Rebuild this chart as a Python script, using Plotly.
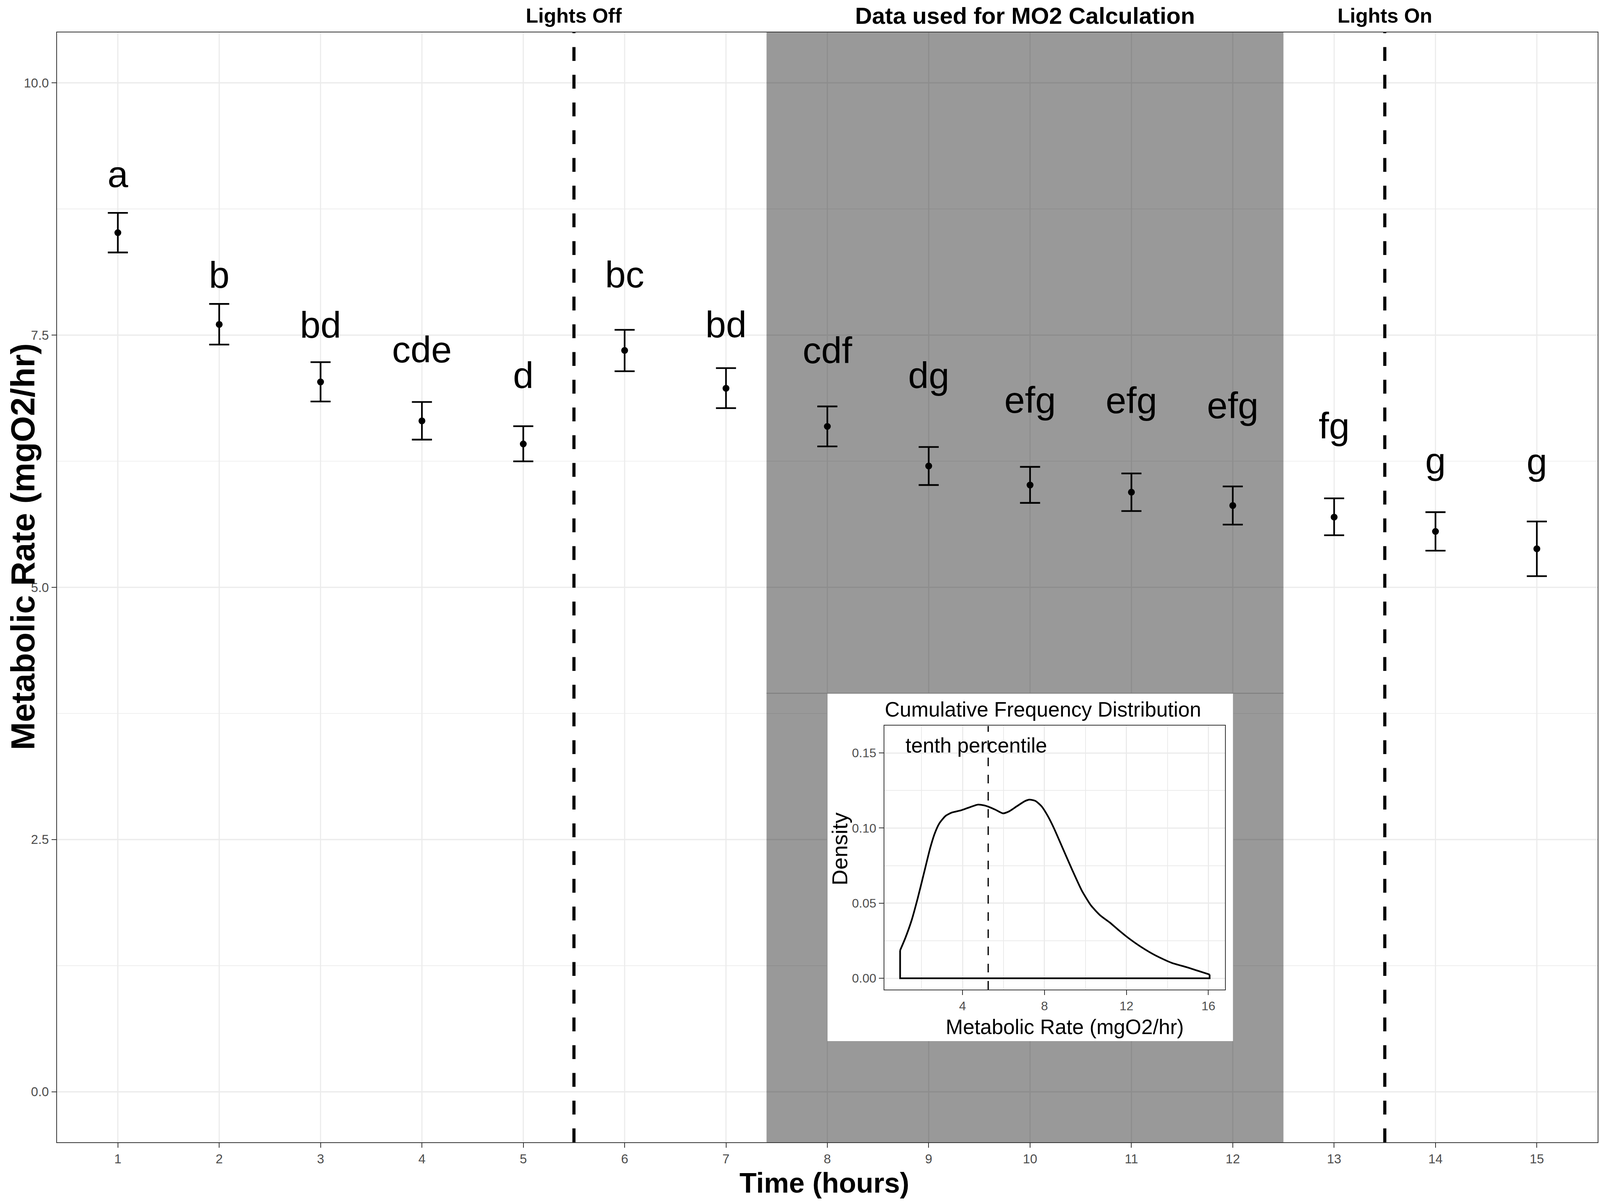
import plotly.graph_objects as go

# ---------------- data ----------------
hours = list(range(1, 16))
mean_rate = [8.515, 7.606, 7.036, 6.650, 6.421, 7.348, 6.973, 6.595, 6.203,
             6.014, 5.943, 5.811, 5.696, 5.554, 5.382]
upper_rate = [8.711, 7.809, 7.232, 6.837, 6.597, 7.552, 7.173, 6.793, 6.391,
              6.194, 6.129, 6.000, 5.882, 5.745, 5.653]
lower_rate = [8.319, 7.406, 6.842, 6.464, 6.249, 7.142, 6.776, 6.397, 6.014,
              5.837, 5.756, 5.622, 5.516, 5.363, 5.111]
letters = ["a", "b", "bd", "cde", "d", "bc", "bd", "cdf", "dg",
           "efg", "efg", "efg", "fg", "g", "g"]
letter_baseline = [8.966, 7.970, 7.473, 7.231, 6.974, 7.973, 7.478, 7.223,
                   6.973, 6.730, 6.726, 6.675, 6.473, 6.130, 6.123]

lights_off = 5.5
lights_on = 13.5
calc_start = 7.4
calc_end = 12.5

y_ticks = [0, 2.5, 5, 7.5, 10]
y_ticktext = ["0.0", "2.5", "5.0", "7.5", "10.0"]
y_minor = [1.25, 3.75, 6.25, 8.75]

# inset: density of metabolic rate
dens_x = [0.950, 1.207, 1.509, 1.811, 2.114, 2.416, 2.642, 2.869, 3.171, 3.473,
          3.927, 4.380, 4.758, 5.135, 5.589, 5.966, 6.269, 6.646, 7.024, 7.251,
          7.553, 7.855, 8.157, 8.460, 8.913, 9.366, 9.819, 10.273, 10.726,
          11.179, 11.632, 12.086, 12.690, 13.446, 14.201, 14.957, 16.060]
dens_y = [0.0186, 0.0269, 0.0385, 0.0534, 0.0700, 0.0866, 0.0965, 0.1032,
          0.1081, 0.1103, 0.1118, 0.1140, 0.1156, 0.1148, 0.1123, 0.1098,
          0.1111, 0.1145, 0.1178, 0.1189, 0.1181, 0.1145, 0.1081, 0.0999,
          0.0858, 0.0717, 0.0584, 0.0484, 0.0418, 0.0372, 0.0319, 0.0269,
          0.0211, 0.0150, 0.0103, 0.0073, 0.0025]
tenth_percentile = 5.25
inset_xticks = [4, 8, 12, 16]
inset_xminor = [2, 6, 10, 14]
inset_yticks = [0, 0.05, 0.10, 0.15]
inset_yticktext = ["0.00", "0.05", "0.10", "0.15"]
inset_yminor = [0.025, 0.075, 0.125]

# ---------------- sizing ----------------
# The browser viewport is capped at 4096 px wide, so the 4783-wide design
# is laid out to fill the viewport (horizontal pixel sizes scaled by SX).
REF_W = 4783
W, H = 4096, 3078
SX = W / REF_W
ML, MR, MT, MB = 171 * SX, 7 * SX, 83, 153
YR = [-0.5, 10.5]
XR = [0.4, 15.6]
px_per_y = (H - MT - MB) / (YR[1] - YR[0])
FONT = "Liberation Sans, Arial, Helvetica, sans-serif"
GRID = "#EBEBEB"
DARK = "#333333"
TICKTXT = "#4D4D4D"
LETTER_SIZE = 95

fig = go.Figure()

# dashed light change lines
for xv in (lights_off, lights_on):
    fig.add_trace(go.Scatter(
        x=[xv, xv], y=[YR[0], YR[1]], mode="lines",
        line=dict(color="black", width=8, dash="35.5px,35.5px"),
        hoverinfo="skip", showlegend=False, xaxis="x", yaxis="y"))

# means with error bars
fig.add_trace(go.Scatter(
    x=hours, y=mean_rate, mode="markers",
    marker=dict(color="black", size=17.5),
    error_y=dict(type="data", symmetric=False,
                 array=[u - m for u, m in zip(upper_rate, mean_rate)],
                 arrayminus=[m - l for m, l in zip(mean_rate, lower_rate)],
                 color="black", thickness=4.3, width=30 * SX),
    showlegend=False, xaxis="x", yaxis="y"))

# significance letters
offset = 0.25 * LETTER_SIZE / px_per_y
fig.add_trace(go.Scatter(
    x=hours, y=[b + offset for b in letter_baseline], mode="text",
    text=letters, textposition="middle center",
    textfont=dict(family=FONT, size=LETTER_SIZE, color="black"),
    hoverinfo="skip", showlegend=False, xaxis="x", yaxis="y"))

# inset density outline
fig.add_trace(go.Scatter(
    x=dens_x, y=dens_y, mode="lines",
    line=dict(color="black", width=4.3, shape="spline", smoothing=0.6),
    hoverinfo="skip", showlegend=False, xaxis="x2", yaxis="y2"))
fig.add_trace(go.Scatter(
    x=[dens_x[-1], dens_x[-1], dens_x[0], dens_x[0]],
    y=[dens_y[-1], 0, 0, dens_y[0]], mode="lines",
    line=dict(color="black", width=4.3),
    hoverinfo="skip", showlegend=False, xaxis="x2", yaxis="y2"))
fig.add_trace(go.Scatter(
    x=[tenth_percentile, tenth_percentile], y=[-0.0075, 0.168], mode="lines",
    line=dict(color="black", width=3.2, dash="22px,22px"),
    hoverinfo="skip", showlegend=False, xaxis="x2", yaxis="y2"))

# ---------------- shapes (background layers) ----------------
shapes = []
for xv in hours:
    shapes.append(dict(type="line", xref="x", yref="paper", x0=xv, x1=xv, y0=0, y1=1,
                       line=dict(color=GRID, width=2.8), layer="below"))
for yv in y_minor:
    shapes.append(dict(type="line", xref="paper", yref="y", x0=0, x1=1, y0=yv, y1=yv,
                       line=dict(color=GRID, width=1.6), layer="below"))
for yv in y_ticks:
    shapes.append(dict(type="line", xref="paper", yref="y", x0=0, x1=1, y0=yv, y1=yv,
                       line=dict(color=GRID, width=3.2), layer="below"))
# shaded calculation window
shapes.append(dict(type="rect", xref="x", yref="paper", x0=calc_start, x1=calc_end,
                   y0=0, y1=1, fillcolor="rgba(0,0,0,0.4)", line=dict(width=0),
                   layer="below"))
# inset white background
box_x0, box_x1, box_y0, box_y1 = 0.5001, 0.7633, 0.0911, 0.4046
shapes.append(dict(type="rect", xref="paper", yref="paper", x0=box_x0, x1=box_x1,
                   y0=box_y0, y1=box_y1, fillcolor="white", line=dict(width=0),
                   layer="below"))
shapes.append(dict(type="line", xref="x", yref="paper", x0=calc_start, x1=calc_end,
                   y0=box_y1, y1=box_y1, line=dict(color="#7a7a7a", width=2),
                   layer="below"))

# ---------------- annotations ----------------
def note(text, x, y, size, xref="paper", yref="paper", bold=False, angle=0,
         xanchor="center"):
    f = dict(family=FONT, size=size, color="black")
    if bold:
        f["weight"] = "bold"
    return dict(text=text, xref=xref, yref=yref, x=x, y=y, textangle=angle,
                showarrow=False, xanchor=xanchor, yanchor="middle", font=f)

ann = [
    note("Lights Off", lights_off, 1.0151, 52, xref="x", bold=True),
    note("Lights On", lights_on, 1.0151, 52, xref="x", bold=True),
    note("Data used for MO2 Calculation", (calc_start + calc_end) / 2, 1.0151, 60,
         xref="x", bold=True),
    note("Time (hours)", 0.498, -0.0365, 72, bold=True),
    note("Metabolic Rate (mgO2/hr)", -0.0224, 0.5366, 86, bold=True, angle=-90),
    note("Cumulative Frequency Distribution", 0.5368, 0.3902, 53, xanchor="left"),
    note("Metabolic Rate (mgO2/hr)", 0.6541, 0.104, 53),
    note("Density", 0.5080, 0.2644, 56, angle=-90),
    note("tenth percentile", 4.66, 0.1552, 53, xref="x2", yref="y2"),
]

axis_common = dict(zeroline=False, showline=True, mirror=True, linecolor=DARK,
                   linewidth=2.4, ticks="outside", ticklen=12, tickwidth=2.4,
                   tickcolor=DARK, automargin=False)

fig.update_layout(
    width=W, height=H,
    margin=dict(l=ML, r=MR, t=MT, b=MB, autoexpand=False),
    paper_bgcolor="white", plot_bgcolor="white",
    showlegend=False,
    shapes=shapes, annotations=ann,
    font=dict(family=FONT),
    xaxis=dict(range=XR, tickmode="array", tickvals=hours,
               ticktext=[str(h) for h in hours], showgrid=False,
               tickfont=dict(family=FONT, size=33, color=TICKTXT), **axis_common),
    yaxis=dict(range=YR, tickmode="array", tickvals=y_ticks, ticktext=y_ticktext,
               showgrid=False,
               tickfont=dict(family=FONT, size=33, color=TICKTXT), **axis_common),
    xaxis2=dict(domain=[0.5370, 0.7581], anchor="y2", range=[0.18, 16.81],
                tickmode="array", tickvals=inset_xticks,
                showgrid=True, gridcolor=GRID, gridwidth=2.8,
                minor=dict(tickmode="array", tickvals=inset_xminor, showgrid=True,
                           gridcolor=GRID, gridwidth=1.5, ticks=""),
                tickfont=dict(family=FONT, size=32, color=TICKTXT), **axis_common),
    yaxis2=dict(domain=[0.1376, 0.3754], anchor="x2", range=[-0.0075, 0.1682],
                tickmode="array", tickvals=inset_yticks, ticktext=inset_yticktext,
                showgrid=True, gridcolor=GRID, gridwidth=3,
                minor=dict(tickmode="array", tickvals=inset_yminor, showgrid=True,
                           gridcolor=GRID, gridwidth=1.5, ticks=""),
                tickfont=dict(family=FONT, size=32, color=TICKTXT), **axis_common),
)

# remove the default page margin and fit the figure to the actual viewport width
post = """
document.body.style.margin = '0';
document.body.style.overflow = 'hidden';
var gd = document.getElementById('{plot_id}');
var w = window.innerWidth;
if (w && Math.abs(w - %d) > 2) {
  var k = w / %d;
  Plotly.relayout(gd, {width: w, 'margin.l': %f * k, 'margin.r': %f * k});
}
""" % (W, W, ML, MR)

fig.write_html("out.html", post_script=post, config={"displayModeBar": False})
